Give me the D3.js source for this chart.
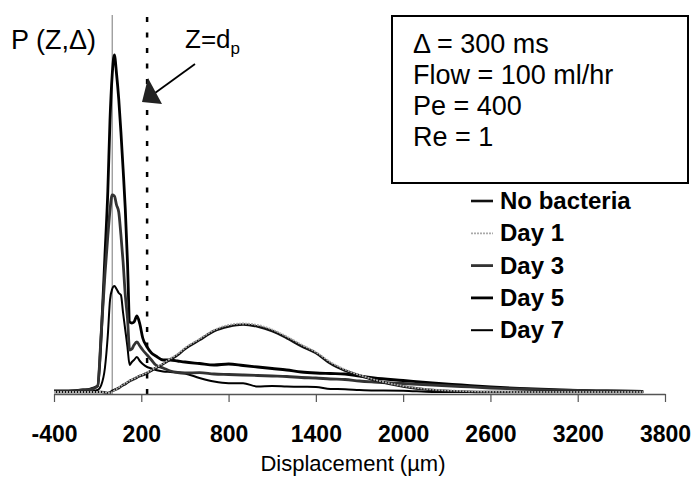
<!DOCTYPE html>
<html>
<head>
<meta charset="utf-8">
<script src="https://cdn.jsdelivr.net/npm/d3@7"></script>
<style>
body { margin: 0; background: #fff; }
svg { display: block; font-family: 'Liberation Sans', Arial, sans-serif; }
</style>
</head>
<body>
<svg id="chart" width="691" height="480"></svg>
<script>
(function() {
'use strict';

// displacement grid (um), finer around the stagnant peak
var displacement = [-400, -300, -200, -150, -100, -75, -50, -30, -15, 0,
    15, 30, 45, 60, 75, 90, 105, 120, 135, 150,
    170, 190, 210, 240, 270, 300, 350, 400, 450, 500,
    600, 700, 800, 900, 1000, 1100, 1200, 1300, 1400, 1500,
    1600, 1700, 1800, 2000, 2200, 2400, 2600, 2800, 3000, 3200,
    3400, 3650];

// P(Z,delta), arbitrary units
var noBacteria = [0.02, 0.02, 0.02, 0.02, 0.02, 0.02, 0.015, 0.01, 0.015, 0.03,
    0.04, 0.05, 0.06, 0.075, 0.09, 0.10, 0.115, 0.13, 0.14, 0.15,
    0.165, 0.18, 0.19, 0.21, 0.235, 0.26, 0.30, 0.345, 0.39, 0.45,
    0.54, 0.63, 0.675, 0.695, 0.675, 0.63, 0.56, 0.48, 0.41, 0.305,
    0.235, 0.185, 0.14, 0.075, 0.04, 0.025, 0.02, 0.02, 0.02, 0.02,
    0.02, 0.02];
var day1 = [0.02, 0.02, 0.02, 0.02, 0.02, 0.02, 0.015, 0.01, 0.01, 0.02,
    0.035, 0.05, 0.065, 0.08, 0.095, 0.105, 0.12, 0.135, 0.145, 0.155,
    0.17, 0.185, 0.195, 0.215, 0.24, 0.265, 0.305, 0.355, 0.40, 0.46,
    0.55, 0.64, 0.69, 0.705, 0.69, 0.645, 0.575, 0.495, 0.42, 0.32,
    0.245, 0.19, 0.145, 0.08, 0.045, 0.03, 0.022, 0.02, 0.02, 0.02,
    0.02, 0.02];
var day3 = [0.025, 0.025, 0.04, 0.045, 0.08, 0.62, 1.19, 1.58, 1.84, 1.99,
    1.98, 1.89, 1.82, 1.59, 1.32, 0.99, 0.76, 0.44, 0.45, 0.49,
    0.52, 0.48, 0.44, 0.39, 0.34, 0.29, 0.26, 0.23, 0.215, 0.21,
    0.213, 0.20, 0.195, 0.19, 0.185, 0.18, 0.175, 0.165, 0.16, 0.15,
    0.145, 0.13, 0.12, 0.105, 0.09, 0.075, 0.06, 0.05, 0.04, 0.035,
    0.03, 0.025];
var day5 = [0.03, 0.03, 0.04, 0.05, 0.08, 0.59, 1.38, 2.03, 2.74, 3.19,
    3.39, 3.20, 2.95, 2.62, 2.25, 1.85, 1.32, 0.72, 0.71, 0.72,
    0.78, 0.70, 0.56, 0.47, 0.41, 0.38, 0.34, 0.34, 0.33, 0.32,
    0.305, 0.29, 0.30, 0.285, 0.27, 0.255, 0.24, 0.22, 0.21, 0.205,
    0.20, 0.18, 0.16, 0.135, 0.11, 0.09, 0.07, 0.055, 0.045, 0.035,
    0.03, 0.025];
var day7 = [0.025, 0.025, 0.025, 0.025, 0.04, 0.09, 0.26, 0.59, 0.94, 1.05,
    1.08, 1.05, 1.01, 0.99, 0.81, 0.64, 0.47, 0.29, 0.32, 0.34,
    0.37, 0.33, 0.30, 0.27, 0.255, 0.24, 0.225, 0.22, 0.215, 0.205,
    0.16, 0.125, 0.108, 0.107, 0.075, 0.08, 0.075, 0.072, 0.07, 0.05,
    0.048, 0.04, 0.035, 0.033, 0.02, 0.02, 0.02, 0.02, 0.02, 0.02,
    0.02, 0.02];

var xTicks = [-400, 200, 800, 1400, 2000, 2600, 3200, 3800];
var legendNames = ['No bacteria', 'Day 1', 'Day 3', 'Day 5', 'Day 7'];
var infoLines = ['\u0394 = 300 ms', 'Flow = 100 ml/hr', 'Pe = 400', 'Re = 1'];
var particleSize = 240; // Z = d_p

var series = [
    {name: 'Day 7', values: day7, color: '#000', width: 2},
    {name: 'Day 5', values: day5, color: '#000', width: 2.8},
    {name: 'Day 3', values: day3, color: '#333', width: 2.8},
    {name: 'No bacteria', values: noBacteria, color: '#111', width: 2.6},
    {name: 'Day 1', values: day1, color: '#aaa', width: 1.8, dash: '2,1'}
];
var styleOf = {};
series.forEach(function(s) { styleOf[s.name] = s; });

var svg = d3.select('#chart');

var x = d3.scaleLinear().domain([-400, 3800]).range([54, 665]);
var y = d3.scaleLinear().domain([0, 3.79]).range([394, 15]);

// y axis sits at Z = 0, no ticks
svg.append('line')
    .attr('x1', x(0)).attr('x2', x(0))
    .attr('y1', y(0)).attr('y2', y(3.79))
    .attr('stroke', '#777')
    .attr('stroke-width', 1);

// Z = d_p marker
svg.append('line')
    .attr('x1', x(particleSize)).attr('x2', x(particleSize))
    .attr('y1', y(0)).attr('y2', y(3.79))
    .attr('stroke', '#000')
    .attr('stroke-width', 2.5)
    .attr('stroke-dasharray', '5,10.5');

var line = d3.line()
    .x(function(d) { return x(d[0]); })
    .y(function(d) { return y(d[1]); })
    .curve(d3.curveMonotoneX);

svg.append('g')
    .attr('class', 'lines')
    .selectAll('path')
    .data(series)
    .enter()
    .append('path')
    .attr('fill', 'none')
    .attr('stroke', function(d) { return d.color; })
    .attr('stroke-width', function(d) { return d.width; })
    .attr('stroke-dasharray', function(d) { return d.dash || null; })
    .attr('stroke-linejoin', 'round')
    .attr('d', function(d) {
        return line(displacement.map(function(z, i) { return [z, d.values[i]]; }));
    });

// x axis
var xAxis = d3.axisBottom(x)
    .tickValues(xTicks)
    .tickSize(8)
    .tickSizeOuter(0)
    .tickPadding(24)
    .tickFormat(function(d) { return String(d); });

var axisG = svg.append('g')
    .attr('transform', 'translate(0,' + y(0) + ')')
    .call(xAxis);
axisG.select('.domain').attr('stroke', '#555').attr('stroke-width', 1.5);
axisG.selectAll('.tick line').attr('stroke', '#555').attr('stroke-width', 1.2);
axisG.selectAll('.tick text')
    .attr('fill', '#000')
    .attr('font-size', 23)
    .attr('font-weight', 'bold')
    .attr('font-family', "'Liberation Sans', Arial, sans-serif");

svg.append('text')
    .attr('x', 353)
    .attr('y', 471)
    .attr('text-anchor', 'middle')
    .attr('font-size', 22)
    .text('Displacement (\u00b5m)');

svg.append('text')
    .attr('x', 11)
    .attr('y', 49)
    .attr('font-size', 27)
    .text('P (Z,\u0394)');

var zLabel = svg.append('text')
    .attr('x', 185)
    .attr('y', 48)
    .attr('font-size', 26);
zLabel.append('tspan').text('Z=d');
zLabel.append('tspan').attr('font-size', 17).attr('dy', 6).text('p');

// arrow pointing at the dashed line
svg.append('line')
    .attr('x1', 195).attr('y1', 64)
    .attr('x2', 155).attr('y2', 93)
    .attr('stroke', '#000')
    .attr('stroke-width', 1.8);
svg.append('path')
    .attr('d', 'M142,102 L148,78 L162,104 Z')
    .attr('fill', '#222');

// parameter box
svg.append('rect')
    .attr('x', 392).attr('y', 16)
    .attr('width', 296).attr('height', 167)
    .attr('fill', '#fff')
    .attr('stroke', '#000')
    .attr('stroke-width', 2);

svg.append('g')
    .selectAll('text')
    .data(infoLines)
    .enter()
    .append('text')
    .attr('x', 413)
    .attr('y', function(d, i) { return 53 + i * 31; })
    .attr('font-size', 27)
    .text(function(d) { return d; });

// legend
var legendG = svg.append('g')
    .selectAll('g')
    .data(legendNames)
    .enter()
    .append('g')
    .attr('transform', function(d, i) { return 'translate(0,' + (209 + i * 32.3) + ')'; });

legendG.append('line')
    .attr('x1', 471).attr('x2', 493)
    .attr('y1', -8).attr('y2', -8)
    .attr('stroke', function(d) { return styleOf[d].color; })
    .attr('stroke-width', function(d) { return styleOf[d].width; })
    .attr('stroke-dasharray', function(d) { return styleOf[d].dash || null; });

legendG.append('text')
    .attr('x', 500)
    .attr('font-size', 24)
    .attr('font-weight', 'bold')
    .text(function(d) { return d; });

})();
</script>
</body>
</html>
